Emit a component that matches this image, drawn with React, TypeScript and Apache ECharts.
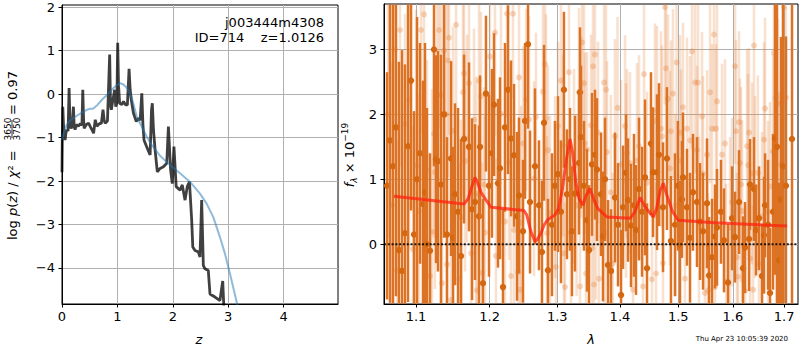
import React, { useEffect, useRef } from "react";
import * as echarts from "echarts";

// ---------- axis ticks ----------
const zTicks = [0, 1, 2, 3, 4];
const logpTicks = [-4, -3, -2, -1, 0, 1, 2];
const lamTicks = [1.1, 1.2, 1.3, 1.4, 1.5, 1.6, 1.7];
const fluxTicks = [0, 1, 2, 3];

// ---------- left panel: log p(z) ----------
const zBlack = [
  0.0, 0.006, 0.014, 0.03, 0.056, 0.07, 0.086, 0.11, 0.128, 0.145,
  0.164, 0.185, 0.206, 0.22, 0.236, 0.26, 0.296, 0.33, 0.36, 0.375,
  0.39, 0.4, 0.44, 0.48, 0.51, 0.54, 0.57, 0.6, 0.63, 0.66,
  0.69, 0.71, 0.74, 0.76, 0.78, 0.82, 0.86, 0.875, 0.89, 0.91,
  0.93, 0.95, 0.97, 0.99, 1.005, 1.02, 1.04, 1.08, 1.11, 1.15,
  1.18, 1.21, 1.23, 1.25, 1.29, 1.34, 1.38, 1.41, 1.44, 1.46,
  1.48, 1.54, 1.59, 1.615, 1.63, 1.65, 1.68, 1.72, 1.77, 1.83,
  1.89, 1.92, 1.96, 1.99, 2.02, 2.06, 2.13, 2.17, 2.22, 2.26,
  2.3, 2.34, 2.36, 2.4, 2.46, 2.49, 2.52, 2.55, 2.58, 2.64,
  2.67, 2.76, 2.85, 2.9, 2.92, 2.95,
];
const logpBlack = [
  -1.8, -0.95, -0.29, -0.8, -1.06, -0.9, -0.82, -0.85, 0.14, -0.7,
  -0.79, -0.72, -0.29, -0.75, -0.82, -0.7, -0.74, -0.68, -0.72, 0.1,
  -0.6, -0.79, -0.7, -0.67, -0.75, -0.82, -0.9, -0.59, -0.74, -0.7,
  -0.67, -0.68, -0.36, -0.6, -0.67, -0.62, 0.91, -0.25, -0.36, -0.2,
  -0.05, 0.1, -0.29, -0.2, 1.18, 0.2, -0.21, -0.24, -0.17, -0.25,
  -0.25, 0.58, 0.1, -0.13, -0.44, -0.63, -0.56, -0.6, 0.02, -0.7,
  -1.06, -1.25, -1.4, -0.36, -0.21, -0.82, -1.29, -1.79, -1.71, -1.67,
  -1.59, -0.75, -1.75, -2.06, -1.21, -2.13, -2.21, -2.09, -2.44, -2.13,
  -2.02, -2.9, -3.52, -3.6, -3.63, -3.75, -2.44, -3.94, -4.02, -4.06,
  -4.6, -4.67, -4.75, -4.3, -4.9, -5.3,
];
const zBlue = [
  0.0, 0.04, 0.085, 0.14, 0.206, 0.3, 0.4, 0.45, 0.5, 0.56,
  0.64, 0.72, 0.83, 0.93, 1.0, 1.05, 1.11, 1.17, 1.22, 1.26,
  1.3, 1.35, 1.44, 1.53, 1.6, 1.68, 1.77, 1.86, 1.95, 2.13,
  2.31, 2.49, 2.61, 2.73, 2.85, 2.94, 3.03, 3.16, 3.2,
];
const logpBlue = [
  -1.05, -0.85, -0.71, -0.62, -0.55, -0.47, -0.4, -0.36, -0.34, -0.34,
  -0.25, -0.13, 0.0, 0.14, 0.22, 0.25, 0.22, 0.14, 0.03, -0.09,
  -0.28, -0.52, -0.75, -0.98, -1.14, -1.27, -1.42, -1.53, -1.63, -1.82,
  -2.02, -2.29, -2.52, -2.83, -3.29, -3.67, -4.13, -4.83, -5.05,
];

// ---------- right panel: spectrum ----------
const modelWave = [
  1.0717, 1.1642, 1.17, 1.176, 1.1795, 1.183, 1.1879, 1.195, 1.202, 1.2497,
  1.254, 1.26, 1.2661, 1.27, 1.2752, 1.28, 1.2856, 1.2964, 1.302, 1.308,
  1.314, 1.3197, 1.324, 1.3288, 1.334, 1.3399, 1.345, 1.3511, 1.357, 1.3639,
  1.3787, 1.417, 1.425, 1.4339, 1.442, 1.4562, 1.462, 1.468, 1.4736, 1.48,
  1.49, 1.4999, 1.5665, 1.7058,
];
const modelFlux = [
  0.74, 0.62, 0.7, 0.92, 1.03, 0.95, 0.8, 0.68, 0.57, 0.52,
  0.45, 0.2, 0.04, 0.08, 0.17, 0.3, 0.38, 0.45, 0.55, 0.85,
  1.3, 1.62, 1.4, 0.95, 0.7, 0.6, 0.75, 0.86, 0.7, 0.55,
  0.42, 0.4, 0.5, 0.72, 0.58, 0.42, 0.55, 0.82, 0.94, 0.75,
  0.5, 0.37, 0.33, 0.28,
];

const darkWave = [
  1.063, 1.0667, 1.0705, 1.0743, 1.0781, 1.082, 1.0858, 1.0897, 1.0936, 1.0975,
  1.1014, 1.1053, 1.1092, 1.1118, 1.1144, 1.1184, 1.1237, 1.1264, 1.129, 1.133,
  1.1371, 1.1411, 1.1466, 1.1493, 1.152, 1.1561, 1.1602, 1.1643,
  1.1712, 1.1754, 1.1795, 1.1851, 1.1865, 1.1907, 1.1949, 1.1992, 1.2034, 1.2063,
  1.212, 1.2149, 1.2192, 1.2221, 1.2265, 1.2308, 1.2352, 1.2396, 1.2425, 1.2484,
  1.2514, 1.2558, 1.2588, 1.2662, 1.2722, 1.2767, 1.2798, 1.2858,
  1.2919, 1.2965, 1.3011, 1.3057, 1.3103, 1.315, 1.3197, 1.3228, 1.3275, 1.3338,
  1.3354, 1.337, 1.3417, 1.3465, 1.3497, 1.3545, 1.3593, 1.3625, 1.369, 1.3722,
  1.3755, 1.3804, 1.3853, 1.3918, 1.3968, 1.4018, 1.4051, 1.4101, 1.4134, 1.4184,
  1.4234, 1.4268, 1.4319, 1.437, 1.4421, 1.4455, 1.4523, 1.4558, 1.4627, 1.4661,
  1.4731, 1.48, 1.487, 1.4941, 1.4994, 1.503, 1.5065, 1.5083, 1.5155, 1.5209,
  1.5263, 1.5335, 1.539, 1.5445, 1.5518, 1.5555, 1.561,
  1.5665, 1.5702, 1.5776, 1.5832, 1.5908, 1.5983, 1.604, 1.6116, 1.6193, 1.6231,
  1.6308, 1.6327, 1.6404, 1.6443, 1.6502, 1.656, 1.66, 1.662, 1.6679, 1.6718,
  1.6777, 1.6817, 1.6856, 1.6896, 1.6936, 1.6976, 1.7036, 1.7158,
];
const darkFlux = [
  0.9, 1.6, 1.2, 1.8, -0.09, -0.41, 0.17, 1.51, 2.52, 0.15,
  1.0, 1.4, 0.62, 0.8, 0.0, -0.1, 3.0, 1.31, 1.28, 0.92,
  2.0, 0.15, 1.32, 0.1, 0.77, 0.5, -0.18, 1.62,
  1.5, 0.54, 0.65, 0.43, 1.5, -0.6, 2.32, 0.9, 1.4, 2.15,
  0.94, 1.17, -0.66, 1.8, 2.38, 1.63, 1.37, 0.43, 0.75, 0.2,
  1.9, 3.08, 0.65, 1.2, 0.6, -0.12, 1.87, -0.4,
  0.3, 0.9, 1.08, 0.5, 2.38, 0.77, 1.0, 0.2, 0.78, 1.25,
  2.34, 1.65, 0.9, 0.37, -0.09, 1.23, 1.38, 1.15, 0.77, 0.12,
  1.0, -0.32, -0.41, 0.72, 0.3, -0.78, 0.57, 1.1, 0.68, 0.29,
  0.6, 0.22, 0.85, 0.5, 1.03, -0.37, 1.55, 1.11, 1.11, 1.38,
  0.57, 1.32, 0.05, 0.3, 0.9, -0.02, 0.69, 1.03, 0.57, 0.1,
  0.8, 0.65, 0.35, 0.2, 0.63, -0.48, -0.2,
  0.12, 0.26, 0.5, 0.06, -0.59, 0.4, 0.11, 0.65, -0.37, -0.05,
  0.08, 0.92, 0.85, 0.22, 0.4, -0.49, 0.14, 0.6, 0.3, -0.75,
  0.5, 1.63, 1.5, -0.25, 0.69, 1.2, 0.9, 1.62,
];
const darkErr = [
  1.75, 2.5, 2.9, 2.6, 2.9, 3.4, 2.6, 2.4, 2.0, 1.9,
  2.5, 1.7, 1.9, 2.3, 2.1, 1.5, 1.8, 1.6, 1.7, 2.0,
  1.9, 1.5, 1.5, 1.4, 1.4, 1.6, 1.8, 1.3,
  1.3, 1.4, 1.2, 1.4, 1.1, 1.3, 1.2, 1.4, 1.3, 1.1,
  1.3, 1.4, 1.2, 1.3, 1.3, 1.2, 1.1, 1.3, 1.2, 1.1,
  1.2, 1.3, 1.1, 1.2, 1.0, 1.1, 1.2, 1.1,
  1.1, 1.0, 1.2, 1.1, 1.2, 1.0, 1.1, 1.0, 1.2, 1.1,
  1.0, 1.1, 1.0, 1.1, 1.0, 1.1, 1.0, 1.1, 0.95, 1.0,
  0.95, 1.0, 0.95, 1.0, 0.95, 1.0, 0.95, 0.9, 0.95, 0.95,
  1.1, 1.0, 1.1, 1.0, 1.2, 1.0, 1.1, 1.0, 1.2, 1.1,
  1.0, 1.1, 1.0, 1.1, 1.0, 1.0, 0.9, 1.0, 0.9, 1.0,
  0.9, 1.0, 0.9, 0.9, 1.0, 0.9, 0.9,
  0.8, 0.9, 0.8, 0.8, 0.9, 0.8, 0.7, 0.8, 0.8, 0.7,
  0.8, 0.7, 0.8, 0.7, 0.8, 0.8, 0.9, 0.8, 1.0, 1.0,
  1.2, 2.1, 2.5, 1.2, 2.5, 2.6, 2.3, 3.0,
];

const lightWave = [
  1.0642, 1.0692, 1.073, 1.0756, 1.0794, 1.0858, 1.091, 1.0962, 1.1001, 1.104,
  1.1066, 1.1105, 1.1144, 1.1184, 1.1211, 1.1237, 1.125, 1.1277, 1.1304, 1.133,
  1.1344, 1.1371, 1.1398, 1.1411, 1.1425, 1.1438, 1.1466, 1.1493, 1.1534, 1.1575,
  1.1602, 1.1629, 1.1643, 1.1657,
  1.1685, 1.1712, 1.174, 1.1781, 1.1809, 1.1823, 1.1851, 1.1879, 1.1893, 1.1921,
  1.1935, 1.2006, 1.2077, 1.2091, 1.2163, 1.2221, 1.225, 1.2279, 1.2308, 1.2337,
  1.2352, 1.2411, 1.2425, 1.244, 1.2455, 1.2484, 1.2529, 1.2573, 1.2648, 1.2677,
  1.2782, 1.2813, 1.2828, 1.2843, 1.2858,
  1.2889, 1.2965, 1.298, 1.3011, 1.3057, 1.3088, 1.3103, 1.3119, 1.3181, 1.3212,
  1.326, 1.33, 1.3338, 1.3354, 1.337, 1.3386, 1.3417, 1.3433, 1.3449, 1.3465,
  1.3529, 1.3545, 1.3561, 1.3577, 1.3593, 1.3609, 1.3642, 1.3658, 1.3739, 1.3755,
  1.3771, 1.3787, 1.385, 1.388, 1.3918, 1.396, 1.4018, 1.4084, 1.4101, 1.4117,
  1.4167, 1.4217, 1.4285, 1.4319, 1.4387, 1.4404, 1.4455, 1.454, 1.4592, 1.461,
  1.4627, 1.4696, 1.4713, 1.4731, 1.4766, 1.4783, 1.4818, 1.4853, 1.487, 1.4906,
  1.495, 1.497, 1.503, 1.5047, 1.5083, 1.5119, 1.5155, 1.5209, 1.5245, 1.5299,
  1.5335, 1.5353, 1.5372, 1.5427, 1.5445, 1.5481, 1.5518, 1.5536, 1.5573, 1.561,
  1.5647, 1.5665, 1.5684, 1.5702, 1.5795, 1.5851, 1.587, 1.5946, 1.5983, 1.604,
  1.6059, 1.6078, 1.6097, 1.6116, 1.6135, 1.6154, 1.6174, 1.6231, 1.627, 1.6289,
  1.6308, 1.6327, 1.6366, 1.6385, 1.6404, 1.6424, 1.648, 1.65, 1.656, 1.66,
  1.662, 1.668, 1.6718, 1.6777, 1.6797, 1.6817, 1.6837, 1.6856, 1.6876, 1.6896,
  1.6936, 1.6996, 1.7036,
];
const lightFlux = [
  2.0, 0.6, 3.0, -0.4, 3.3, 1.85, 2.22, -0.08, 1.21, 0.51,
  3.3, 3.54, 1.14, -0.49, 0.19, 1.7, 1.11, 2.3, 3.3, 2.3,
  -0.6, 2.98, 2.0, -0.31, 2.83, 3.18, -0.86, 1.75, 3.38, -0.53,
  0.42, 2.34, 2.63, 1.28,
  1.63, 2.48, -0.14, 1.92, 0.78, -0.71, 2.52, 2.28, -0.44, 0.92,
  0.18, 2.89, 3.26, -0.18, 2.01, 0.35, 3.55, 1.26, -0.49, 3.55,
  0.22, -0.43, 2.57, -0.7, 0.33, 1.55, 2.23, 1.92, 1.01, 1.96,
  2.35, 2.77, 1.94, 0.17, 1.45,
  0.48, 0.88, -0.35, 1.82, 2.52, 1.52, -0.14, -0.66, 2.65, 0.17,
  1.2, 0.6, 2.34, -0.65, 1.8, 3.11, 2.48, 1.55, -0.45, 1.46,
  1.83, -0.06, 2.74, -0.62, 2.92, 0.65, 1.72, -0.53, 2.49, 0.17,
  2.38, 1.42, 0.8, -0.3, 1.66, 2.1, 1.23, 1.82, 0.98, 1.4,
  1.25, -0.7, 1.29, 1.51, -0.65, 2.62, 0.95, -0.54, 1.9, -0.45,
  2.06, 1.78, 1.66, -0.29, 3.65, 2.71, 2.24, 1.17, 1.74, 2.32,
  0.6, 2.8, 1.72, 1.29, 2.11, -0.53, 1.78, 1.6, 2.97, 2.49,
  1.45, 2.49, 0.26, 1.97, 1.09, -0.75, 1.38, -0.71, 2.34, 1.78,
  3.23, -0.66, 1.78, 2.2, 1.38, 1.55, -0.57, 0.25, 0.65, 2.74,
  1.74, -0.2, -0.5, 1.88, 1.25, 0.92, 0.51, -0.72, 1.51, 1.22,
  1.72, -0.22, 1.09, -0.7, 3.06, 0.88, 1.1, -0.3, 0.43, 1.61,
  2.09, 0.5, 0.89, 1.43, 2.95, 1.57, 2.26, 0.17, 2.17, 0.85,
  1.23, 3.65, 2.26,
];
const lightErr = [
  1.9, 2.2, 1.8, 2.0, 2.1, 1.7, 2.3, 1.9, 2.4, 1.8,
  1.6, 2.0, 1.7, 1.9, 2.2, 1.6, 1.8, 2.1, 1.5, 1.7,
  2.0, 1.6, 1.9, 1.7, 1.8, 1.5, 1.9, 1.6, 1.7, 1.8,
  1.5, 1.6, 1.4, 1.7,
  1.6, 1.5, 1.7, 1.4, 1.8, 1.5, 1.6, 1.3, 1.7, 1.5,
  1.8, 1.4, 1.6, 1.5, 1.7, 1.4, 1.6, 1.5, 1.6, 1.3,
  1.7, 1.5, 1.6, 1.4, 1.8, 1.5, 1.4, 1.6, 1.5, 1.3,
  1.5, 1.4, 1.6, 1.5, 1.3,
  1.5, 1.4, 1.6, 1.3, 1.5, 1.4, 1.6, 1.3, 1.5, 1.4,
  1.5, 1.4, 1.3, 1.5, 1.4, 1.3, 1.5, 1.4, 1.3, 1.5,
  1.4, 1.3, 1.5, 1.4, 1.3, 1.5, 1.4, 1.3, 1.4, 1.5,
  1.3, 1.4, 1.5, 1.4, 1.5, 1.4, 1.3, 1.4, 1.5, 1.3,
  1.4, 1.3, 1.5, 1.4, 1.3, 1.5, 1.4, 1.3, 1.5, 1.4,
  1.3, 1.5, 1.4, 1.3, 1.5, 1.4, 1.3, 1.5, 1.4, 1.3,
  1.4, 1.5, 1.5, 1.4, 1.3, 1.5, 1.4, 1.3, 1.5, 1.4,
  1.3, 1.5, 1.4, 1.3, 1.5, 1.4, 1.3, 1.5, 1.4, 1.3,
  1.5, 1.4, 1.3, 1.5, 1.4, 1.3, 1.5, 1.4, 1.3, 1.5,
  1.4, 1.3, 1.5, 1.4, 1.3, 1.5, 1.4, 1.3, 1.5, 1.4,
  1.3, 1.5, 1.4, 1.3, 1.5, 1.4, 1.5, 1.3, 1.3, 1.5,
  1.4, 1.4, 1.3, 1.5, 1.4, 1.3, 1.5, 1.4, 1.3, 1.5,
  1.4, 1.5, 1.4,
];

// ---------- axis limits ----------
const Z_MIN = 0;
const Z_MAX = 4.98;
const LOGP_MIN = -4.83;
const LOGP_MAX = 2.05;
const LAM_MIN = 1.0592;
const LAM_MAX = 1.728;
const FLUX_MIN = -0.92;
const FLUX_MAX = 3.7;

const FONT = "DejaVu Sans";

function minusFmt(v: number) {
  return String(v).replace("-", "\u2212");
}

function pairs(xs: number[], ys: number[]) {
  const n = Math.min(xs.length, ys.length);
  const out: number[][] = [];
  for (let i = 0; i < n; i++) out.push([xs[i], ys[i]]);
  return out;
}

function triples(xs: number[], ys: number[], es: number[]) {
  const n = Math.min(xs.length, ys.length, es.length);
  const out: number[][] = [];
  for (let i = 0; i < n; i++) out.push([xs[i], ys[i], es[i]]);
  return out;
}

function errorBars(barColor: string, dotColor: string, barWidth: number, radius: number) {
  return function (params: any, api: any) {
    const x = api.value(0);
    const y = api.value(1);
    const e = api.value(2);
    const cs = params.coordSys;
    const top = api.coord([x, y + e]);
    const bot = api.coord([x, y - e]);
    const c = api.coord([x, y]);
    const y1 = Math.max(top[1], cs.y + 0.5);
    const y2 = Math.min(bot[1], cs.y + cs.height - 0.5);
    const children: any[] = [];
    if (y2 > y1) {
      children.push({
        type: "line",
        shape: { x1: c[0], y1, x2: c[0], y2 },
        style: { stroke: barColor, lineWidth: barWidth },
      });
    }
    if (c[1] > cs.y + 2 && c[1] < cs.y + cs.height - 2) {
      children.push({
        type: "circle",
        shape: { cx: c[0], cy: c[1], r: radius },
        style: { fill: dotColor },
      });
    }
    return { type: "group", children };
  };
}

const axisLine = { show: true, onZero: false, lineStyle: { color: "#000", width: 1 } };
const tick = (vals: number[]) => ({
  show: true,
  inside: false,
  length: 3.5,
  customValues: vals,
  lineStyle: { color: "#000", width: 1 },
});
const label = (vals: number[], fmt: any, margin: number) => ({
  show: true,
  customValues: vals,
  formatter: fmt,
  margin,
  color: "#000",
  fontSize: 13,
  fontFamily: FONT,
});
const split = { show: true, lineStyle: { color: "#b0b0b0", width: 1 } };

function txt(text: string, x: number, y: number, size: number, align: string, extra: any = {}) {
  return {
    type: "text",
    x,
    y,
    z: 100,
    style: {
      text,
      fontSize: size,
      fontFamily: FONT,
      fill: "#000",
      align,
      verticalAlign: "middle",
      textAlign: align,
      textVerticalAlign: "middle",
      ...extra,
    },
  };
}

export default function App() {
  const ref = useRef<HTMLDivElement>(null);

  useEffect(() => {
    if (!ref.current) return;
    const chart = echarts.init(ref.current, undefined, { renderer: "svg" });

    const richN = { fontSize: 13, fontFamily: FONT, fill: "#000", color: "#000" };
    const richI = { fontSize: 13, fontFamily: FONT, fontStyle: "italic", fill: "#000", color: "#000" };

    const option: any = {
      animation: false,
      backgroundColor: "#fff",
      grid: [
        { left: 62, top: 5, width: 276, height: 299, show: true, borderColor: "#000", borderWidth: 1, backgroundColor: "transparent" },
        { left: 384, top: 4, width: 414, height: 300, show: true, borderColor: "#000", borderWidth: 1, backgroundColor: "transparent" },
      ],
      xAxis: [
        {
          type: "value",
          gridIndex: 0,
          min: Z_MIN,
          max: Z_MAX,
          axisLine,
          axisTick: tick(zTicks),
          axisLabel: label(zTicks, (v: number) => String(v), 6),
          splitLine: split,
        },
        {
          type: "log",
          logBase: 10,
          gridIndex: 1,
          min: LAM_MIN,
          max: LAM_MAX,
          axisLine,
          axisTick: tick(lamTicks),
          axisLabel: label(lamTicks, (v: number) => Number(v).toFixed(1), 6),
          splitLine: split,
          minorTick: { show: false },
          minorSplitLine: { show: false },
        },
      ],
      yAxis: [
        {
          type: "value",
          gridIndex: 0,
          min: LOGP_MIN,
          max: LOGP_MAX,
          axisLine,
          axisTick: tick(logpTicks),
          axisLabel: label(logpTicks, minusFmt, 7),
          splitLine: split,
        },
        {
          type: "value",
          gridIndex: 1,
          min: FLUX_MIN,
          max: FLUX_MAX,
          axisLine,
          axisTick: tick(fluxTicks),
          axisLabel: label(fluxTicks, minusFmt, 7),
          splitLine: split,
        },
      ],
      series: [
        {
          type: "line",
          xAxisIndex: 0,
          yAxisIndex: 0,
          data: pairs(zBlack, logpBlack),
          showSymbol: false,
          symbol: "none",
          lineStyle: { color: "rgba(0,0,0,0.75)", width: 2.8 },
          z: 3,
          silent: true,
        },
        {
          type: "line",
          xAxisIndex: 0,
          yAxisIndex: 0,
          data: pairs(zBlue, logpBlue),
          showSymbol: false,
          symbol: "none",
          lineStyle: { color: "rgba(31,119,180,0.5)", width: 2 },
          z: 4,
          silent: true,
        },
        {
          type: "custom",
          xAxisIndex: 1,
          yAxisIndex: 1,
          data: triples(lightWave, lightFlux, lightErr),
          encode: { x: 0, y: 1 },
          renderItem: errorBars("rgba(230,130,60,0.24)", "rgba(230,130,60,0.32)", 2.6, 3),
          z: 2,
          silent: true,
        },
        {
          type: "custom",
          xAxisIndex: 1,
          yAxisIndex: 1,
          data: triples(darkWave, darkFlux, darkErr),
          encode: { x: 0, y: 1 },
          renderItem: errorBars("#dc7224", "#d4670f", 2.5, 3.2),
          z: 3,
          silent: true,
        },
        {
          type: "line",
          xAxisIndex: 1,
          yAxisIndex: 1,
          data: pairs(modelWave, modelFlux),
          showSymbol: false,
          symbol: "none",
          lineStyle: { color: "rgba(255,35,15,0.75)", width: 3 },
          z: 5,
          silent: true,
        },
        {
          type: "line",
          xAxisIndex: 1,
          yAxisIndex: 1,
          data: [
            [LAM_MIN, 0],
            [LAM_MAX, 0],
          ],
          showSymbol: false,
          symbol: "none",
          lineStyle: { color: "rgba(0,0,0,0.85)", width: 2, type: [2, 1.8] },
          z: 6,
          silent: true,
        },
      ],
      graphic: [
        txt("j003444m4308", 324, 22, 13, "right"),
        txt("ID=714    z=1.0126", 324, 37, 13, "right"),
        {
          type: "group",
          x: 12,
          y: 240,
          rotation: Math.PI / 2,
          z: 100,
          children: [
            {
              type: "text",
              x: 0,
              y: 0,
              style: {
                text: "{n|log }{i|p}{n|(}{i|z}{n|) / }{i|\u03c7}{n|\u00b2 =}",
                rich: { n: richN, i: richI },
                fontSize: 13,
                fontFamily: FONT,
                fill: "#000",
                align: "left",
                verticalAlign: "middle",
                textAlign: "left",
                textVerticalAlign: "middle",
              },
            },
            txt("3650", 111, -4.5, 9, "center"),
            {
              type: "line",
              shape: { x1: 102, y1: 0, x2: 120, y2: 0 },
              style: { stroke: "#000", lineWidth: 0.8 },
            },
            txt("3750", 111, 5, 9, "center"),
            txt("= 0.97", 125, 0, 13, "left"),
          ],
        },
        {
          type: "group",
          x: 349,
          y: 155,
          rotation: Math.PI / 2,
          z: 100,
          children: [
            {
              type: "text",
              x: 0,
              y: 0,
              style: {
                text: "{i|f}{sub|\u03bb}{n| \u00d7 10}{sup|\u221219}",
                rich: {
                  n: { ...richN, lineHeight: 18 },
                  i: { ...richI, lineHeight: 18 },
                  sub: { fontSize: 9, fontFamily: FONT, fontStyle: "italic", fill: "#000", color: "#000", verticalAlign: "bottom", lineHeight: 10 },
                  sup: { fontSize: 9, fontFamily: FONT, fill: "#000", color: "#000", verticalAlign: "top", lineHeight: 10 },
                },
                align: "center",
                verticalAlign: "middle",
                textAlign: "center",
                textVerticalAlign: "middle",
              },
            },
          ],
        },
        txt("z", 199, 339, 13, "center", { fontStyle: "italic" }),
        txt("\u03bb", 591, 339, 13, "center", { fontStyle: "italic" }),
        txt("Thu Apr 23 10:05:39 2020", 788, 339, 7, "right"),
      ],
    };

    chart.setOption(option);
    return () => {
      chart.dispose();
    };
  }, []);

  return (
    <div
      ref={ref}
      style={{ position: "fixed", left: 0, top: 0, width: 800, height: 350, background: "#fff" }}
    />
  );
}
